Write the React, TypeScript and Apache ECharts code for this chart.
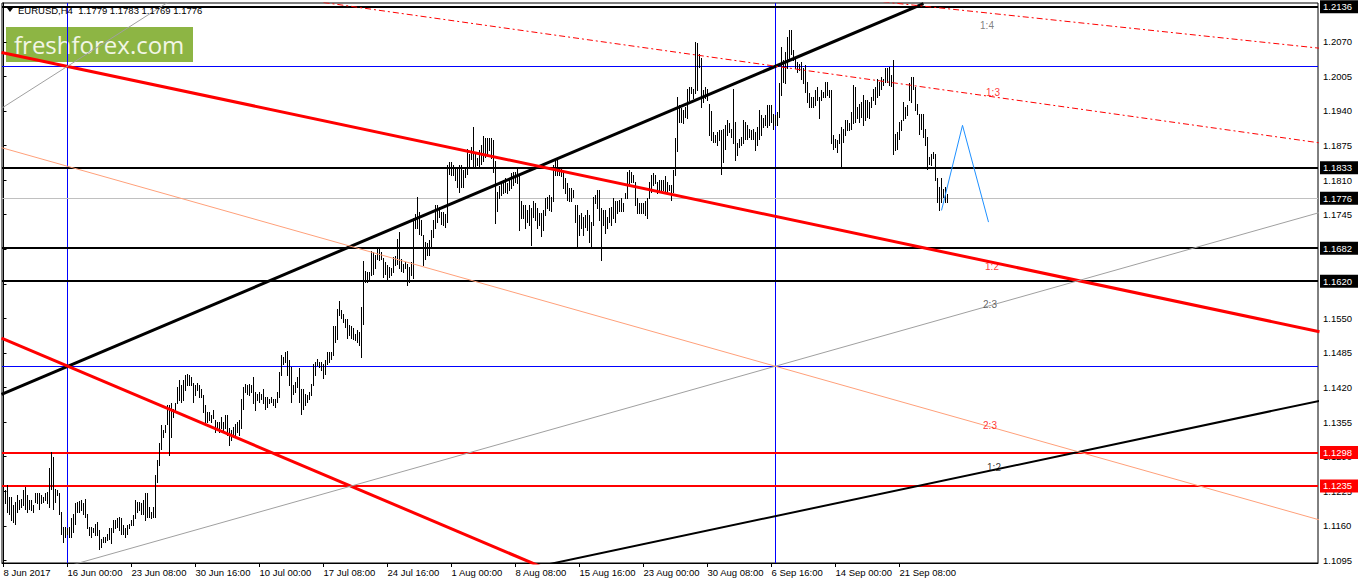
import React, { useEffect, useRef } from "react";
import * as echarts from "echarts";

// ---- axis texts ----
const timeTickBars = [0, 32, 64, 96, 128, 160, 192, 224, 256, 288, 320, 352, 384, 416, 448];
const timeLabels = [
  "8 Jun 2017", "16 Jun 00:00", "23 Jun 08:00", "30 Jun 16:00", "10 Jul 00:00",
  "17 Jul 08:00", "24 Jul 16:00", "1 Aug 00:00", "8 Aug 08:00", "15 Aug 16:00",
  "23 Aug 00:00", "30 Aug 08:00", "6 Sep 16:00", "14 Sep 00:00", "21 Sep 08:00",
];
const priceTicks = [
  1.1095, 1.116, 1.1225, 1.129, 1.1355, 1.142, 1.1485, 1.155, 1.1615, 1.168,
  1.1745, 1.181, 1.1875, 1.194, 1.2005, 1.207, 1.2135,
];

// ---- EURUSD H4 bars: [high, low] ----
const barsJune = [
  [1.1230,1.1192],[1.1227,1.1202],[1.1236,1.1186],[1.1214,1.1183],[1.1214,1.1171],[1.1199,1.1167],[1.1205,1.1164],[1.1217,1.1186],
  [1.1208,1.1192],[1.1211,1.1196],[1.1227,1.1199],[1.1233,1.1192],[1.1217,1.1186],[1.1208,1.1192],[1.1208,1.1189],[1.1199,1.1186],
  [1.1221,1.1205],[1.1221,1.1202],[1.1221,1.1192],[1.1217,1.1202],[1.1214,1.1205],[1.1221,1.1208],[1.1224,1.1202],[1.1268,1.1196],
  [1.1298,1.1230],[1.1290,1.1192],[1.1230,1.1205],[1.1227,1.1217],[1.1221,1.1183],[1.1186,1.1145],[1.1158,1.1130],[1.1157,1.1139],
  [1.1155,1.1145],[1.1157,1.1139],[1.1174,1.1139],[1.1183,1.1149],[1.1202,1.1164],[1.1205,1.1186],[1.1206,1.1186],[1.1208,1.1189],
  [1.1202,1.1183],[1.1211,1.1177],[1.1183,1.1155],[1.1158,1.1142],[1.1158,1.1139],[1.1155,1.1149],[1.1164,1.1142],[1.1167,1.1142],
  [1.1152,1.1117],[1.1136,1.1120],[1.1139,1.1130],[1.1139,1.1130],[1.1145,1.1133],[1.1155,1.1136],[1.1155,1.1127],[1.1171,1.1149],
  [1.1171,1.1155],[1.1174,1.1158],[1.1177,1.1152],[1.1174,1.1145],[1.1161,1.1145],[1.1155,1.1139],[1.1161,1.1145],[1.1164,1.1155],
  [1.1171,1.1161],[1.1180,1.1161],[1.1208,1.1174],[1.1205,1.1186],[1.1205,1.1189],[1.1202,1.1183],[1.1208,1.1183],[1.1221,1.1171],
  [1.1221,1.1177],[1.1196,1.1177],[1.1186,1.1174],[1.1196,1.1177],[1.1255,1.1177],[1.1283,1.1243],[1.1315,1.1274],[1.1349,1.1305],
  [1.1340,1.1327],[1.1349,1.1337],[1.1387,1.1352],[1.1387,1.1293],[1.1390,1.1327],[1.1380,1.1365],[1.1390,1.1374],[1.1421,1.1390],
  [1.1434,1.1396],[1.1424,1.1393],[1.1434,1.1396],[1.1443,1.1415],[1.1445,1.1424],[1.1443,1.1424],[1.1440,1.1424],[1.1428,1.1393],
  [1.1424,1.1406],[1.1428,1.1415],[1.1424,1.1402],[1.1418,1.1402],[1.1406,1.1374],[1.1387,1.1355],[1.1374,1.1355],[1.1374,1.1359],
  [1.1368,1.1355],[1.1377,1.1362],[1.1359,1.1337],[1.1355,1.1340],[1.1355,1.1337],[1.1365,1.1343],[1.1355,1.1337],[1.1369,1.1343],
  [1.1369,1.1330],[1.1343,1.1312],[1.1340,1.1321],[1.1346,1.1327],[1.1352,1.1330],[1.1355,1.1337],[1.1359,1.1330],
];
const barsJuly = [
  [1.1399,1.1343],[1.1421,1.1380],[1.1427,1.1412],[1.1424,1.1408],[1.1427,1.1405],[1.1424,1.1412],[1.1440,1.1390],[1.1412,1.1377],
  [1.1408,1.1396],[1.1412,1.1393],[1.1408,1.1399],[1.1418,1.1390],[1.1402,1.1380],[1.1402,1.1383],[1.1399,1.1390],[1.1402,1.1393],
  [1.1399,1.1387],[1.1399,1.1383],[1.1412,1.1393],[1.1449,1.1402],[1.1482,1.1443],[1.1477,1.1465],[1.1487,1.1468],[1.1488,1.1443],
  [1.1471,1.1424],[1.1459,1.1393],[1.1424,1.1408],[1.1430,1.1412],[1.1440,1.1421],[1.1456,1.1393],[1.1418,1.1371],[1.1418,1.1380],
  [1.1408,1.1387],[1.1405,1.1393],[1.1412,1.1399],[1.1427,1.1405],[1.1465,1.1424],[1.1468,1.1443],[1.1474,1.1462],[1.1468,1.1459],
  [1.1468,1.1452],[1.1465,1.1437],[1.1471,1.1446],[1.1486,1.1465],[1.1486,1.1468],[1.1487,1.1474],[1.1536,1.1481],[1.1536,1.1506],
  [1.1568,1.1512],[1.1582,1.1556],[1.1565,1.1550],[1.1559,1.1543],[1.1548,1.1534],[1.1548,1.1513],[1.1538,1.1518],[1.1536,1.1513],
  [1.1531,1.1511],[1.1521,1.1509],[1.1528,1.1506],[1.1525,1.1499],[1.1572,1.1477],[1.1657,1.1540],[1.1640,1.1619],[1.1637,1.1619],
  [1.1637,1.1622],[1.1676,1.1632],[1.1675,1.1634],[1.1669,1.1644],[1.1681,1.1662],[1.1682,1.1659],[1.1675,1.1662],[1.1664,1.1628],
  [1.1656,1.1634],[1.1650,1.1622],[1.1647,1.1628],[1.1644,1.1631],[1.1665,1.1637],[1.1667,1.1650],[1.1699,1.1653],[1.1713,1.1644],
  [1.1662,1.1640],[1.1653,1.1637],[1.1656,1.1644],[1.1653,1.1612],[1.1647,1.1619],[1.1656,1.1631],[1.1738,1.1625],[1.1747,1.1719],
  [1.1779,1.1719],[1.1750,1.1709],[1.1735,1.1707],[1.1707,1.1650],[1.1694,1.1662],[1.1691,1.1669],[1.1697,1.1669],[1.1716,1.1685],
  [1.1735,1.1703],[1.1763,1.1719],[1.1763,1.1732],[1.1760,1.1741],[1.1750,1.1728],[1.1750,1.1725],[1.1747,1.1722],[1.1838,1.1732],
  [1.1844,1.1822],[1.1844,1.1819],[1.1838,1.1819],[1.1835,1.1810],[1.1832,1.1797],[1.1838,1.1788],[1.1838,1.1797],[1.1829,1.1797],
  [1.1832,1.1816],[1.1869,1.1822],[1.1860,1.1835],[1.1872,1.1850],[1.1910,1.1835],[1.1860,1.1835],
];
const barsAugust = [
  [1.1851,1.1838],[1.1867,1.1835],[1.1876,1.1841],[1.1892,1.1845],[1.1889,1.1854],[1.1889,1.1857],[1.1889,1.1867],[1.1889,1.1851],
  [1.1885,1.1826],[1.1845,1.1729],[1.1788,1.1751],[1.1798,1.1776],[1.1804,1.1782],[1.1810,1.1785],[1.1813,1.1788],[1.1804,1.1785],
  [1.1813,1.1791],[1.1823,1.1795],[1.1826,1.1801],[1.1826,1.1807],[1.1832,1.1804],[1.1820,1.1716],[1.1770,1.1738],[1.1763,1.1738],
  [1.1763,1.1719],[1.1754,1.1732],[1.1763,1.1726],[1.1757,1.1688],[1.1770,1.1741],[1.1766,1.1735],[1.1757,1.1719],[1.1748,1.1726],
  [1.1748,1.1704],[1.1754,1.1716],[1.1776,1.1744],[1.1779,1.1757],[1.1782,1.1754],[1.1779,1.1751],[1.1838,1.1770],[1.1848,1.1820],
  [1.1848,1.1820],[1.1835,1.1820],[1.1835,1.1817],[1.1826,1.1795],[1.1813,1.1785],[1.1804,1.1773],[1.1795,1.1770],[1.1795,1.1770],
  [1.1791,1.1779],[1.1763,1.1732],[1.1763,1.1685],[1.1744,1.1707],[1.1748,1.1719],[1.1741,1.1707],[1.1744,1.1722],[1.1754,1.1716],
  [1.1744,1.1694],[1.1732,1.1682],[1.1779,1.1726],[1.1782,1.1766],[1.1791,1.1757],[1.1791,1.1735],[1.1757,1.1660],[1.1754,1.1726],
  [1.1754,1.1710],[1.1741,1.1719],[1.1757,1.1732],[1.1760,1.1726],[1.1776,1.1738],[1.1770,1.1732],[1.1770,1.1748],[1.1773,1.1751],
  [1.1776,1.1751],[1.1766,1.1751],[1.1785,1.1776],[1.1826,1.1776],[1.1829,1.1804],[1.1826,1.1807],[1.1820,1.1807],[1.1807,1.1763],
  [1.1776,1.1748],[1.1766,1.1748],[1.1766,1.1748],[1.1766,1.1748],[1.1770,1.1744],[1.1776,1.1738],[1.1807,1.1776],[1.1820,1.1788],
  [1.1823,1.1801],[1.1820,1.1804],[1.1807,1.1785],[1.1810,1.1791],[1.1810,1.1788],[1.1810,1.1791],[1.1817,1.1788],[1.1807,1.1788],
  [1.1801,1.1791],[1.1801,1.1773],[1.1829,1.1788],[1.1889,1.1820],[1.1967,1.1864],[1.1951,1.1920],[1.1945,1.1920],[1.1942,1.1917],
  [1.1948,1.1929],[1.1982,1.1926],[1.1985,1.1961],[1.1985,1.1973],[1.1982,1.1964],[1.2070,1.1973],[1.2067,1.1979],[1.2048,1.2023],
  [1.2039,1.1948],[1.1979,1.1957],[1.1985,1.1964],[1.1982,1.1961],[1.1954,1.1895],[1.1939,1.1886],
];
const barsSeptember = [
  [1.1901,1.1882],[1.1894,1.1882],[1.1901,1.1876],[1.1904,1.1885],[1.1904,1.1822],[1.1907,1.1844],[1.1913,1.1869],[1.1923,1.1894],
  [1.1917,1.1901],[1.1907,1.1891],[1.1982,1.1879],[1.1920,1.1847],[1.1879,1.1857],[1.1888,1.1872],[1.1891,1.1876],[1.1923,1.1879],
  [1.1920,1.1888],[1.1913,1.1888],[1.1907,1.1891],[1.1904,1.1888],[1.1907,1.1888],[1.1901,1.1866],[1.1910,1.1876],[1.1942,1.1888],
  [1.1932,1.1894],[1.1926,1.1910],[1.1932,1.1913],[1.1951,1.1910],[1.1951,1.1913],[1.1951,1.1920],[1.1935,1.1907],[1.1932,1.1913],
  [1.1938,1.1913],[1.1992,1.1929],[1.2061,1.1970],[1.2036,1.1995],[1.2051,1.1992],[1.2079,1.2020],[1.2092,1.2036],[1.2092,1.2048],
  [1.2054,1.2036],[1.2042,1.2020],[1.2032,1.2014],[1.2029,1.2017],[1.2032,1.2001],[1.2020,1.1992],[1.2026,1.1976],[1.1995,1.1957],
  [1.1973,1.1948],[1.1967,1.1948],[1.1967,1.1948],[1.1979,1.1951],[1.1985,1.1960],[1.1967,1.1926],[1.1979,1.1960],[1.1976,1.1967],
  [1.1995,1.1967],[1.1995,1.1970],[1.1979,1.1967],[1.1979,1.1879],[1.1894,1.1869],[1.1888,1.1872],[1.1885,1.1863],[1.1897,1.1879],
  [1.1910,1.1834],[1.1907,1.1882],[1.1923,1.1894],[1.1923,1.1904],[1.1917,1.1904],[1.1938,1.1907],[1.1989,1.1917],[1.1985,1.1920],
  [1.1948,1.1926],[1.1954,1.1920],[1.1957,1.1929],[1.1970,1.1913],[1.1960,1.1923],[1.1960,1.1929],[1.1957,1.1926],[1.1967,1.1948],
  [1.1982,1.1960],[1.1985,1.1954],[1.2001,1.1967],[1.1995,1.1970],[1.2004,1.1982],[1.2001,1.1989],[1.2020,1.1995],[1.2020,1.1995],
  [1.2023,1.1989],[1.2007,1.1986],[1.2036,1.1860],[1.1897,1.1866],[1.1901,1.1869],[1.1920,1.1888],[1.1923,1.1904],[1.1957,1.1923],
  [1.1948,1.1926],[1.1951,1.1932],[1.1992,1.1960],[1.2004,1.1957],[1.2004,1.1982],[1.1985,1.1941],[1.1954,1.1935],[1.1935,1.1897],
  [1.1935,1.1907],[1.1935,1.1891],[1.1907,1.1876],[1.1891,1.1831],[1.1854,1.1841],[1.1860,1.1838],[1.1863,1.1851],[1.1860,1.1810],
  [1.1813,1.1769],[1.1797,1.1754],[1.1813,1.1769],[1.1794,1.1778],[1.1797,1.1769],[1.1783,1.1769],
];
const bars = [...barsJune, ...barsJuly, ...barsAugust, ...barsSeptember];

// ---- horizontal levels and vertical markers ----
const blackLevels = [1.2136, 1.1833, 1.1682, 1.162];
const redLevels = [1.1298, 1.1235];
const blueLevels = [1.2024, 1.146];
const bidPrice = 1.1776;
const blueTimeBars = [32, 386];

// ---- drawn trend lines: [[bar, price], [bar, price]] ----
const thickBlackRise = [[-1, 1.1407], [460, 1.2142]];
const thickRedUpper = [[-1, 1.205], [658, 1.1525]];
const thickRedLower = [[-1, 1.1513], [275, 1.1073]];
const thickBlackLower = [[268, 1.1084], [658, 1.1395]];
const grayRise = [[32, 1.1084], [658, 1.1749]];
const graySteep = [[-1, 1.1945], [90, 1.2163]];
const salmonFall = [[-1, 1.1871], [658, 1.1171]];
const redDash13 = [[160, 1.2144], [658, 1.188]];
const redDash14 = [[440, 1.2145], [658, 1.2058]];
const forecastPath = [[469, 1.1753], [479.5, 1.1913], [492.5, 1.1731]];

// ---- fan level texts ----
const fanTexts = ["1:4", "1:3", "1:2", "2:3", "2:3", "1:2"];
const fanBars = [491.75, 494.75, 494.25, 493.25, 493.25, 495.25];
const fanPrices = [1.2101, 1.1975, 1.1648, 1.1577, 1.1349, 1.1269];
const fanColors = ["#606060", "#FF0000", "#FF0000", "#404040", "#FF0000", "#000000"];

const FONT = "Liberation Sans, Arial, sans-serif";

export default function App() {
  const ref = useRef<HTMLDivElement>(null);
  useEffect(() => {
    if (!ref.current) return;
    const chart = echarts.init(ref.current, undefined, { renderer: "svg" });

    const lineSeries = (data: number[][], color: string, width: number, type: any = "solid", z = 3) => ({
      type: "line",
      data,
      showSymbol: false,
      symbol: "none",
      silent: true,
      clip: true,
      z,
      lineStyle: { color, width, type },
      animation: false,
    });

    const levelLabel = (bg: string) => ({
      show: true,
      position: "end",
      distance: 2,
      formatter: (p: any) => Number(p.value).toFixed(4),
      backgroundColor: bg,
      color: "#ffffff",
      padding: [2, 6, 1, 3],
      fontSize: 9.5,
      fontFamily: FONT,
    });

    const markData: any[] = [
      ...blueLevels.map((v) => ({ yAxis: v, lineStyle: { color: "#0000FF", width: 1, type: "solid" }, label: { show: false } })),
      ...blueTimeBars.map((v) => ({ xAxis: v, lineStyle: { color: "#0000FF", width: 1, type: "solid" }, label: { show: false } })),
      { yAxis: bidPrice, lineStyle: { color: "#C0C0C0", width: 1, type: "solid" }, label: levelLabel("#000") },
      ...blackLevels.map((v) => ({ yAxis: v, lineStyle: { color: "#000", width: 2, type: "solid" }, label: levelLabel("#000") })),
      ...redLevels.map((v) => ({ yAxis: v, lineStyle: { color: "#FF0000", width: 2, type: "solid" }, label: levelLabel("#FF0000") })),
    ];

    chart.setOption({
      animation: false,
      backgroundColor: "#ffffff",
      grid: { left: 2, right: 40, top: 3, bottom: 21, show: true, borderColor: "#000", borderWidth: 1, backgroundColor: "#fff" },
      xAxis: {
        type: "value",
        min: -0.75,
        max: 657.25,
        axisLine: { show: true, lineStyle: { color: "#000", width: 1 } },
        axisTick: { show: true, customValues: timeTickBars, length: 4, lineStyle: { color: "#000" } },
        axisLabel: {
          show: true,
          customValues: timeTickBars,
          formatter: (v: number) => timeLabels[timeTickBars.indexOf(Math.round(v))] ?? "",
          align: "left",
          margin: 4,
          color: "#000",
          fontSize: 9.5,
          fontFamily: FONT,
        },
        splitLine: { show: false },
      },
      yAxis: {
        type: "value",
        position: "right",
        min: 1.109,
        max: 1.2143,
        axisLine: { show: true, lineStyle: { color: "#000", width: 1 } },
        axisTick: { show: true, customValues: priceTicks, length: 3, lineStyle: { color: "#000" } },
        axisLabel: {
          show: true,
          customValues: priceTicks,
          formatter: (v: number) => v.toFixed(4),
          margin: 5,
          color: "#000",
          fontSize: 9.5,
          fontFamily: FONT,
        },
        splitLine: { show: false },
      },
      series: [
        {
          type: "custom",
          silent: true,
          z: 2,
          clip: true,
          data: bars.map((b, i) => [i, b[0], b[1]]),
          renderItem: (_params: any, api: any) => {
            const i = api.value(0);
            const top = api.coord([i, api.value(1)]);
            const bot = api.coord([i, api.value(2)]);
            const x = Math.floor(top[0]) + 0.5;
            return {
              type: "line",
              shape: { x1: x, y1: Math.round(top[1]), x2: x, y2: Math.round(bot[1]) + 1 },
              style: { stroke: "#000", lineWidth: 1 },
            };
          },
        },
        {
          ...lineSeries(thickBlackRise, "#000", 3),
          markLine: { silent: true, precision: 4, symbol: ["none", "none"], animation: false, data: markData, z: 2 },
        },
        lineSeries(thickRedUpper, "#FF0000", 3),
        lineSeries(thickRedLower, "#FF0000", 3),
        lineSeries(thickBlackLower, "#000", 2),
        lineSeries(grayRise, "#A0A0A0", 1),
        lineSeries(graySteep, "#A0A0A0", 1),
        lineSeries(salmonFall, "#FFA07A", 1),
        lineSeries(redDash13, "#FF0000", 1, [6, 3, 2, 3]),
        lineSeries(redDash14, "#FF0000", 1, [6, 3, 2, 3]),
        lineSeries(forecastPath, "#1E90FF", 1),
        {
          type: "scatter",
          silent: true,
          symbolSize: 1,
          itemStyle: { color: "rgba(0,0,0,0)" },
          z: 5,
          data: fanTexts.map((t, k) => ({
            value: [fanBars[k], fanPrices[k]],
            label: { show: true, position: "inside", formatter: t, color: fanColors[k], fontSize: 10, fontFamily: FONT },
          })),
        },
      ],
      graphic: [
        {
          type: "polygon",
          shape: { points: [[7, 8], [13, 8], [10, 12]] },
          style: { fill: "#000" },
          z: 10,
        },
        {
          type: "text",
          x: 18,
          y: 5,
          style: { text: "EURUSD,H4  1.1779 1.1783 1.1769 1.1776", fill: "#000", font: `9.5px ${FONT}` },
          z: 10,
        },
        {
          type: "group",
          x: 6,
          y: 27,
          z: 10,
          children: [
            { type: "rect", shape: { x: 0, y: 0, width: 187, height: 35 }, style: { fill: "#8DB544" } },
            {
              type: "text",
              x: 8,
              y: 17.5,
              style: { text: "freshforex.com", fill: "#F2F6E6", font: `24px "Open Sans", sans-serif`, verticalAlign: "middle" },
            },
          ],
        },
      ],
    });
    return () => chart.dispose();
  }, []);
  return <div ref={ref} style={{ position: "absolute", left: 0, top: 0, width: 1358, height: 584 }} />;
}
